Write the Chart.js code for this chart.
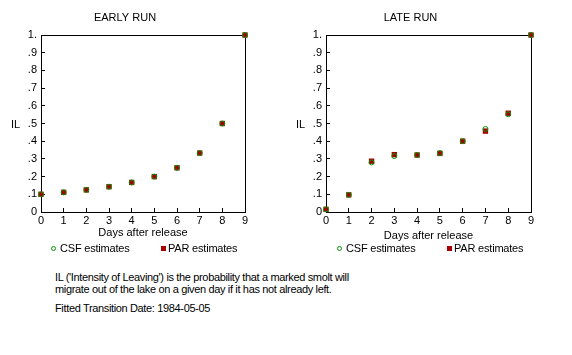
<!DOCTYPE html>
<html>
<head>
<meta charset="utf-8">
<script src="https://cdn.jsdelivr.net/npm/chart.js@4.4.1/dist/chart.umd.min.js"></script>
<style>
  html, body { margin: 0; padding: 0; background: #fff; }
  body { width: 572px; height: 355px; position: relative; overflow: hidden;
         font-family: "Liberation Sans", Arial, sans-serif; font-size: 11px; color: #000; }
  canvas { position: absolute; top: 0; }
  .legend { position: absolute; top: 242px; height: 13px; }
  .item { position: absolute; top: 0; height: 13px; line-height: 13px; white-space: nowrap; }
  .mk { position: absolute; top: 4px; width: 5px; height: 5px; box-sizing: border-box; }
  .txt { position: absolute; top: 0; letter-spacing: -0.2px; }
  .note { position: absolute; left: 55px; line-height: 12px; white-space: nowrap; letter-spacing: -0.35px; }
</style>
</head>
<body>
<canvas id="early" width="286" height="260" style="left:0px"></canvas>
<canvas id="late" width="286" height="260" style="left:286px"></canvas>
<div class="legend" id="legEarly" style="left:0px"></div>
<div class="legend" id="legLate" style="left:286px"></div>
<div class="note" style="top:271px">IL ('Intensity of Leaving') is the probability that a marked smolt will<br>migrate out of the lake on a given day if it has not already left.</div>
<div class="note" style="top:302px">Fitted Transition Date: 1984-05-05</div>
<script>
// ---- data ----
const days = [0, 1, 2, 3, 4, 5, 6, 7, 8, 9];
const earlyCSF = [0.100, 0.111, 0.125, 0.143, 0.167, 0.200, 0.250, 0.333, 0.500, 1.000];
const earlyPAR = [0.100, 0.111, 0.125, 0.143, 0.167, 0.200, 0.250, 0.333, 0.500, 1.000];
const lateCSF  = [0.015, 0.097, 0.280, 0.316, 0.322, 0.333, 0.400, 0.469, 0.552, 1.000];
const latePAR  = [0.015, 0.097, 0.287, 0.324, 0.322, 0.331, 0.400, 0.457, 0.558, 1.000];
const yTickLabels = ['0', '.1', '.2', '.3', '.4', '.5', '.6', '.7', '.8', '.9', '1.'];
const xTickLabels = ['0', '1', '2', '3', '4', '5', '6', '7', '8', '9'];
const seriesNames = ['CSF estimates', 'PAR estimates'];
const chartTitles = ['EARLY RUN', 'LATE RUN'];
const xAxisTitle = 'Days after release';
const yAxisTitle = 'IL';

const GREEN = '#009a00';
const RED = '#a80000';
const FONT = '"Liberation Sans", Arial, sans-serif';

function pts(vals) { return days.map((d, i) => ({ x: d, y: vals[i] })); }

const framePlugin = {
  id: 'frame',
  beforeDatasetsDraw(chart) {
    const a = chart.chartArea, ctx = chart.ctx;
    ctx.save();
    ctx.strokeStyle = '#000';
    ctx.lineWidth = 1;
    ctx.strokeRect(Math.round(a.left) + 0.5, Math.round(a.top) + 0.5,
                   Math.round(a.right) - Math.round(a.left), Math.round(a.bottom) - Math.round(a.top));
    ctx.restore();
  }
};
const ilPlugin = {
  id: 'ilLabel',
  afterDraw(chart) {
    const a = chart.chartArea, ctx = chart.ctx;
    ctx.save();
    ctx.fillStyle = '#000';
    ctx.font = '11px ' + FONT;
    ctx.textAlign = 'center';
    ctx.textBaseline = 'middle';
    ctx.fillText(yAxisTitle, a.left - 25.5, (a.top + a.bottom) / 2 + 1);
    ctx.restore();
  }
};

function makeChart(id, title, csf, par, padLeft, xHeight) {
  const padBottom = 260 - 212 - xHeight;
  return new Chart(document.getElementById(id), {
    type: 'scatter',
    data: {
      datasets: [
        { label: seriesNames[0], data: pts(csf), pointStyle: 'circle', pointRadius: 2.5,
          borderColor: GREEN, backgroundColor: 'rgba(0,0,0,0)', pointBorderWidth: 1, borderWidth: 1, clip: false },
        { label: seriesNames[1], data: pts(par), pointStyle: 'rect', pointRadius: 3.8,
          borderColor: RED, backgroundColor: RED, pointBorderWidth: 0, borderWidth: 0, clip: false }
      ]
    },
    options: {
      responsive: false,
      animation: false,
      events: [],
      layout: { padding: { left: padLeft, right: 41, top: 0, bottom: padBottom } },
      plugins: {
        legend: { display: false },
        tooltip: { enabled: false },
        title: { display: true, text: title, color: '#000',
                 font: { family: FONT, size: 11, weight: 'normal', lineHeight: '13px' },
                 padding: { top: 11, bottom: 11 } }
      },
      scales: {
        x: {
          type: 'linear', min: 0, max: 9,
          afterFit(s) { s.height = xHeight; },
          ticks: { stepSize: 1, color: '#000', padding: 6, maxRotation: 0,
                   font: { family: FONT, size: 11 },
                   callback: (v, i) => xTickLabels[i] },
          grid: { drawOnChartArea: false, drawTicks: true, tickLength: -4, color: '#000', lineWidth: 1 },
          border: { display: true, color: '#000', width: 1 },
          title: { display: true, text: xAxisTitle, color: '#000',
                   font: { family: FONT, size: 11 }, padding: { top: 0, bottom: 0 } }
        },
        y: {
          type: 'linear', min: 0, max: 1,
          afterFit(s) { s.width = 36; },
          ticks: { stepSize: 0.1, color: '#000', padding: 8,
                   font: { family: FONT, size: 11 },
                   callback: (v, i) => yTickLabels[i] },
          grid: { drawOnChartArea: false, drawTicks: true, tickLength: -4, color: '#000', lineWidth: 1 },
          border: { display: true, color: '#000', width: 1 }
        }
      }
    },
    plugins: [framePlugin, ilPlugin]
  });
}

function buildLegend(chart, elId) {
  const el = document.getElementById(elId);
  const lefts = [51, 161];
  const gaps = [4, 2];
  chart.data.datasets.forEach((ds, i) => {
    const item = document.createElement('div');
    item.className = 'item';
    item.style.left = lefts[i] + 'px';
    const mk = document.createElement('span');
    mk.className = 'mk';
    mk.style.left = '0px';
    if (ds.pointStyle === 'circle') {
      mk.style.border = '1px solid ' + ds.borderColor;
      mk.style.borderRadius = '50%';
    } else {
      mk.style.background = ds.backgroundColor;
    }
    const tx = document.createElement('span');
    tx.className = 'txt';
    tx.style.left = (5 + gaps[i]) + 'px';
    tx.textContent = ds.label;
    item.appendChild(mk);
    item.appendChild(tx);
    el.appendChild(item);
  });
}

const c1 = makeChart('early', chartTitles[0], earlyCSF, earlyPAR, 5, 28);
const c2 = makeChart('late', chartTitles[1], lateCSF, latePAR, 4, 31);
buildLegend(c1, 'legEarly');
buildLegend(c2, 'legLate');
</script>
</body>
</html>
